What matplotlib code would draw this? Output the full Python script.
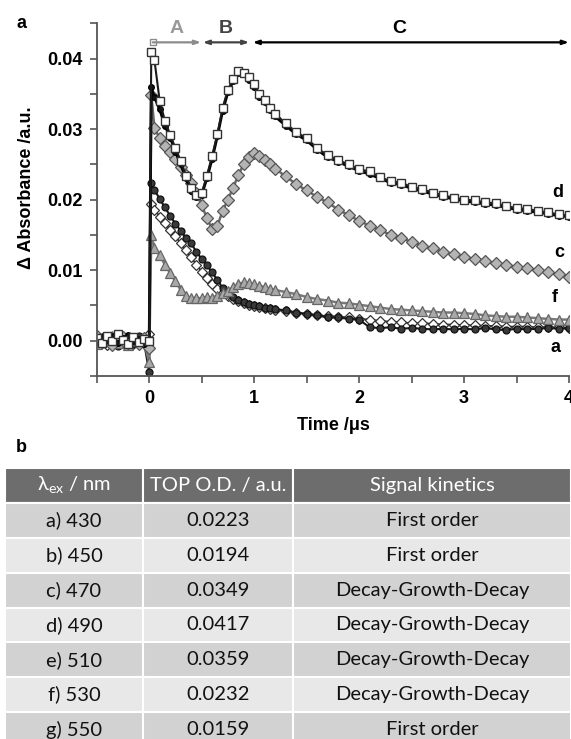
import matplotlib
matplotlib.use('Agg')
import matplotlib.pyplot as plt
from matplotlib.ticker import MultipleLocator, FormatStrFormatter

plt.rcParams['font.family'] = ['Liberation Sans', 'DejaVu Sans']
plt.rcParams['font.weight'] = 'bold'

# transient absorption traces (time in microseconds)
time_us = [-0.50, -0.45, -0.40, -0.35, -0.30, -0.25, -0.20, -0.15, -0.10, -0.05, 0.00,
           0.02, 0.05, 0.10, 0.15, 0.20, 0.25, 0.30, 0.35, 0.40, 0.45, 0.50,
           0.55, 0.60, 0.65, 0.70, 0.75, 0.80, 0.85, 0.90, 0.95, 1.00,
           1.05, 1.10, 1.15, 1.20, 1.30, 1.40, 1.50, 1.60, 1.70, 1.80,
           1.90, 2.00, 2.10, 2.20, 2.30, 2.40, 2.50, 2.60, 2.70, 2.80,
           2.90, 3.00, 3.10, 3.20, 3.30, 3.40, 3.50, 3.60, 3.70, 3.80, 3.90, 4.00]

abs_490 = [0.0004, -0.0003, 0.0007, -0.0001, 0.0009, 0.0001, -0.0004, 0.0005, -0.0002, 0.0003, 0.0000,
           0.0409, 0.0398, 0.0340, 0.0312, 0.0292, 0.0273, 0.0255, 0.0234, 0.0216, 0.0207, 0.0209,
           0.0234, 0.0262, 0.0293, 0.0330, 0.0356, 0.0371, 0.0383, 0.0380, 0.0374, 0.0364,
           0.0350, 0.0341, 0.0330, 0.0322, 0.0308, 0.0296, 0.0287, 0.0273, 0.0263, 0.0256,
           0.0250, 0.0243, 0.0240, 0.0232, 0.0226, 0.0224, 0.0218, 0.0215, 0.0210, 0.0206,
           0.0203, 0.0200, 0.0199, 0.0196, 0.0195, 0.0191, 0.0188, 0.0187, 0.0184, 0.0182, 0.0179, 0.0178]

abs_510 = [-0.0002, 0.0005, 0.0001, 0.0006, -0.0003, 0.0004, 0.0008, -0.0001, 0.0003, -0.0004, 0.0002,
           0.0359, 0.0345, 0.0328, 0.0305, 0.0288, 0.0268, 0.0250, 0.0230, 0.0212, 0.0204, 0.0207,
           0.0230, 0.0258, 0.0290, 0.0326, 0.0352, 0.0368, 0.0380, 0.0378, 0.0370, 0.0360,
           0.0346, 0.0338, 0.0327, 0.0318, 0.0305, 0.0293, 0.0284, 0.0271, 0.0260, 0.0254,
           0.0247, 0.0241, 0.0236, 0.0230, 0.0224, 0.0221, 0.0216, 0.0212, 0.0208, 0.0204,
           0.0201, 0.0198, 0.0196, 0.0194, 0.0192, 0.0189, 0.0186, 0.0184, 0.0182, 0.0180, 0.0177, 0.0176]

abs_470 = [0.0006, -0.0002, 0.0003, -0.0006, 0.0001, 0.0005, -0.0003, 0.0002, -0.0005, 0.0004, -0.0010,
           0.0349, 0.0302, 0.0287, 0.0276, 0.0268, 0.0258, 0.0246, 0.0235, 0.0224, 0.0209, 0.0192,
           0.0174, 0.0158, 0.0163, 0.0184, 0.0200, 0.0217, 0.0235, 0.0250, 0.0261, 0.0266,
           0.0262, 0.0256, 0.0251, 0.0244, 0.0233, 0.0222, 0.0213, 0.0204, 0.0196, 0.0186,
           0.0178, 0.0170, 0.0163, 0.0157, 0.0150, 0.0146, 0.0140, 0.0135, 0.0131, 0.0126,
           0.0123, 0.0119, 0.0116, 0.0113, 0.0110, 0.0107, 0.0105, 0.0103, 0.0100, 0.0097, 0.0094, 0.0091]

abs_530 = [-0.0004, 0.0003, -0.0001, 0.0006, -0.0003, 0.0002, -0.0006, 0.0004, 0.0000, -0.0002, -0.0030,
           0.0150, 0.0132, 0.0121, 0.0108, 0.0096, 0.0084, 0.0072, 0.0063, 0.0060, 0.0061, 0.0060,
           0.0062, 0.0061, 0.0064, 0.0067, 0.0071, 0.0076, 0.0080, 0.0083, 0.0082, 0.0080,
           0.0078, 0.0076, 0.0074, 0.0072, 0.0069, 0.0066, 0.0062, 0.0059, 0.0057, 0.0054,
           0.0053, 0.0051, 0.0049, 0.0047, 0.0045, 0.0044, 0.0043, 0.0042, 0.0041, 0.0040,
           0.0040, 0.0039, 0.0038, 0.0036, 0.0035, 0.0034, 0.0034, 0.0033, 0.0032, 0.0031, 0.0030, 0.0030]

abs_430 = [0.0002, -0.0005, 0.0004, 0.0000, -0.0007, 0.0003, 0.0001, -0.0004, 0.0006, -0.0001, -0.0045,
           0.0223, 0.0214, 0.0201, 0.0189, 0.0177, 0.0166, 0.0156, 0.0146, 0.0138, 0.0126, 0.0116,
           0.0107, 0.0097, 0.0086, 0.0075, 0.0068, 0.0062, 0.0058, 0.0055, 0.0052, 0.0050,
           0.0049, 0.0047, 0.0046, 0.0045, 0.0043, 0.0040, 0.0038, 0.0036, 0.0033, 0.0033,
           0.0031, 0.0030, 0.0019, 0.0018, 0.0019, 0.0017, 0.0018, 0.0017, 0.0016, 0.0017,
           0.0016, 0.0017, 0.0016, 0.0018, 0.0016, 0.0015, 0.0017, 0.0016, 0.0017, 0.0018, 0.0017, 0.0018]

abs_450 = [-0.0003, 0.0004, -0.0006, 0.0002, 0.0005, -0.0002, 0.0003, -0.0005, 0.0001, 0.0004, 0.0010,
           0.0194, 0.0186, 0.0176, 0.0167, 0.0157, 0.0148, 0.0138, 0.0128, 0.0118, 0.0108, 0.0098,
           0.0089, 0.0081, 0.0074, 0.0068, 0.0063, 0.0059, 0.0056, 0.0053, 0.0051, 0.0049,
           0.0048, 0.0046, 0.0045, 0.0044, 0.0042, 0.0040, 0.0038, 0.0036, 0.0035, 0.0034,
           0.0033, 0.0031, 0.0030, 0.0028, 0.0027, 0.0026, 0.0025, 0.0025, 0.0024, 0.0023,
           0.0023, 0.0022, 0.0022, 0.0021, 0.0021, 0.0020, 0.0020, 0.0020, 0.0019, 0.0019, 0.0019, 0.0018]

# kinetic phases marked above the traces
phase_names = ['A', 'B', 'C']
phase_start = [0.035, 0.51, 0.985]
phase_end = [0.495, 0.955, 4.0]
phase_colors = ['#8c8c8c', '#444444', '#000000']

# table b
lambda_labels = ['a) 430', 'b) 450', 'c) 470', 'd) 490', 'e) 510', 'f) 530', 'g) 550']
top_od = ['0.0223', '0.0194', '0.0349', '0.0417', '0.0359', '0.0232', '0.0159']
kinetics = ['First order', 'First order', 'Decay-Growth-Decay', 'Decay-Growth-Decay',
            'Decay-Growth-Decay', 'Decay-Growth-Decay', 'First order']
header = ['λ$_\\mathregular{ex}$ / nm', 'TOP O.D. / a.u.', 'Signal kinetics']


def plot_traces(ax):
    ax.plot(time_us, abs_450, color='#333333', lw=1.3, marker='D', ms=5,
            mfc='white', mec='#333333', mew=0.9)
    ax.plot(time_us, abs_430, color='#1a1a1a', lw=1.5, marker='o', ms=5,
            mfc='#3a3a3a', mec='#111111', mew=0.9)
    ax.plot(time_us, abs_530, color='#7a7a7a', lw=1.8, marker='^', ms=6.5,
            mfc='#a8a8a8', mec='#666666', mew=0.9)
    ax.plot(time_us, abs_470, color='#6a6a6a', lw=1.8, marker='D', ms=6,
            mfc='#b4b4b4', mec='#555555', mew=0.9)
    ax.plot(time_us, abs_510, color='#000000', lw=2.0, marker='o', ms=4,
            mfc='#111111', mec='#000000')
    ax.plot(time_us, abs_490, color='#1a1a1a', lw=1.5, marker='s', ms=6,
            mfc='white', mec='#333333', mew=1.0)

    for name, x0, x1, col in zip(phase_names, phase_start, phase_end, phase_colors):
        style = '-|>,head_length=0.35,head_width=0.12' if name == 'A' else \
            '<|-|>,head_length=0.35,head_width=0.12'
        ax.annotate('', xy=(x1, 0.0423), xytext=(x0, 0.0423),
                    arrowprops=dict(arrowstyle=style, color=col, lw=1.6,
                                    shrinkA=0, shrinkB=0))
        ax.text((x0 + x1) / 2 if name != 'C' else 2.38, 0.0443, name,
                color='#9a9a9a' if name == 'A' else col, fontsize=14,
                ha='center', va='center')
    ax.plot([phase_start[0]], [0.0423], marker='s', ms=5, mfc='white', mec='#8c8c8c')

    for lab, x, y in [('d', 3.89, 0.0210), ('c', 3.91, 0.0125),
                      ('f', 3.86, 0.0061), ('a', 3.87, -0.0010)]:
        ax.text(x, y, lab, fontsize=13, ha='center', va='center')

    ax.set_xlim(-0.5, 4.0)
    ax.set_ylim(-0.005, 0.045)
    ax.xaxis.set_major_locator(MultipleLocator(1))
    ax.xaxis.set_minor_locator(MultipleLocator(0.5))
    ax.yaxis.set_major_locator(MultipleLocator(0.01))
    ax.yaxis.set_minor_locator(MultipleLocator(0.005))
    ax.xaxis.set_major_formatter(FormatStrFormatter('%d'))
    ax.yaxis.set_major_formatter(FormatStrFormatter('%.2f'))
    for side in ['top', 'right']:
        ax.spines[side].set_visible(False)
    for side in ['left', 'bottom']:
        ax.spines[side].set_color('#555555')
        ax.spines[side].set_linewidth(1.3)
    ax.tick_params(which='both', direction='out', length=5, width=1.2,
                   color='#555555', labelsize=13, pad=5)


def draw_table(tax):
    tax.axis('off')
    rows = [list(r) for r in zip(lambda_labels, top_od, kinetics)]
    tbl = tax.table(cellText=rows, colLabels=header, cellLoc='center',
                    colWidths=[138 / 566, 150 / 566, 278 / 566], bbox=[0, 0, 1, 1])
    tbl.auto_set_font_size(False)
    tbl.set_fontsize(14.5)
    for (r, c), cell in tbl.get_celld().items():
        cell.set_edgecolor('white')
        cell.set_linewidth(1.5)
        cell.set_text_props(family=['Lato', 'DejaVu Sans'], weight='normal')
        if r == 0:
            cell.set_facecolor('#6d6d6d')
            cell.get_text().set_color('white')
        else:
            cell.set_facecolor('#d2d2d2' if r % 2 == 1 else '#e8e8e8')
            cell.get_text().set_color('#111111')


def main():
    fig = plt.figure(figsize=(5.71, 7.39), dpi=100)
    ax = fig.add_axes([96.7 / 571, 1 - 376 / 739, 472.3 / 571, 352.7 / 739])
    plot_traces(ax)

    fig.text(27 / 571, 1 - 188 / 739, 'Δ Absorbance /a.u.', rotation=90,
             fontsize=13, ha='center', va='center')
    fig.text(333 / 571, 1 - 425 / 739, 'Time /μs', fontsize=13,
             ha='center', va='center')
    fig.text(21.7 / 571, 1 - 23 / 739, 'a', fontsize=13, ha='center', va='center')
    fig.text(21 / 571, 1 - 448 / 739, 'b', fontsize=13, ha='center', va='center')

    tax = fig.add_axes([5 / 571, 1 - 747 / 739, 566 / 571, 279 / 739])
    draw_table(tax)

    fig.savefig('out.png', dpi=100)


if __name__ == '__main__':
    main()
